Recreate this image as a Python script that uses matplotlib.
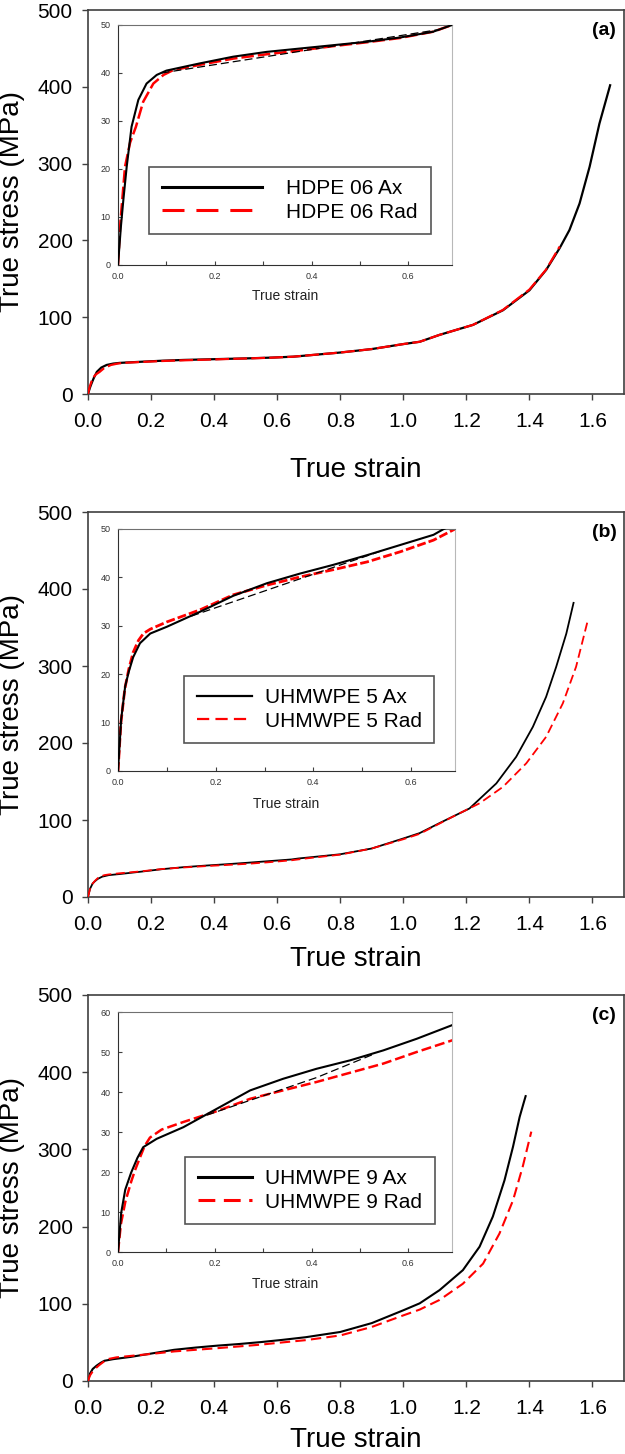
import matplotlib
matplotlib.use("Agg")
import matplotlib.pyplot as plt
from matplotlib.lines import Line2D
from matplotlib.ticker import MultipleLocator, FormatStrFormatter

plt.rcParams['font.family'] = ['Liberation Sans', 'DejaVu Sans']

# region Data
# (a) HDPE 06
a_ax_strain = [0, 0.006, 0.011, 0.018, 0.028, 0.042, 0.059, 0.080, 0.100, 0.169, 0.238, 0.307, 0.376,
               0.445, 0.514, 0.583, 0.651, 0.690, 0.800, 0.900, 1.000, 1.052, 1.115, 1.221, 1.316,
               1.400, 1.453, 1.496, 1.527, 1.559, 1.591, 1.622, 1.656]
a_ax_stress = [0, 8.0, 13.5, 20.5, 28.8, 34.4, 37.8, 39.6, 40.5, 42.0, 43.4, 44.4, 45.1,
               45.8, 46.5, 47.4, 48.6, 50.0, 54.0, 58.5, 65.0, 68.0, 77.0, 90.0, 109.0,
               135.0, 161.5, 190.0, 213.5, 248.0, 296.0, 352.0, 402.0]
a_rad_strain = [0, 0.005, 0.0145, 0.025, 0.037, 0.052, 0.073, 0.094, 0.114, 0.169, 0.238, 0.307, 0.376,
                0.445, 0.514, 0.583, 0.651, 0.690, 0.800, 0.900, 1.000, 1.052, 1.115, 1.221, 1.316,
                1.400, 1.453, 1.496]
a_rad_stress = [0, 9.0, 20.5, 25.5, 28.8, 34.0, 37.8, 39.6, 40.6, 41.7, 43.0, 43.9, 44.7,
                45.6, 46.4, 47.3, 48.6, 50.0, 54.0, 58.5, 65.0, 68.0, 77.0, 90.0, 109.5,
                136.0, 162.0, 192.0]
a_fit_strain = [0.09, 0.66]
a_fit_stress = [40.0, 49.0]

# (b) UHMWPE 5
b_ax_strain = [0, 0.0065, 0.0147, 0.022, 0.031, 0.045, 0.066, 0.100, 0.168, 0.236, 0.305, 0.373,
               0.441, 0.510, 0.578, 0.646, 0.667, 0.800, 0.900, 1.000, 1.052, 1.115, 1.210, 1.295,
               1.358, 1.411, 1.453, 1.485, 1.517, 1.540]
b_ax_stress = [0, 10.7, 17.5, 20.5, 23.5, 26.4, 28.4, 29.8, 32.9, 36.2, 38.8, 40.8,
               42.6, 44.6, 46.7, 48.8, 50.0, 55.5, 63.0, 76.0, 83.0, 96.0, 115.0, 147.5,
               182.0, 221.0, 260.0, 299.0, 342.0, 382.0]
b_rad_strain = [0, 0.006, 0.014, 0.022, 0.031, 0.042, 0.052, 0.066, 0.100, 0.168, 0.236, 0.305,
                0.373, 0.441, 0.510, 0.578, 0.646, 0.690, 0.800, 0.900, 1.000, 1.052, 1.157, 1.242,
                1.316, 1.390, 1.453, 1.506, 1.548, 1.585]
b_rad_stress = [0, 10.0, 17.0, 21.0, 24.5, 27.0, 28.4, 29.3, 30.8, 33.3, 36.4, 38.4,
                40.1, 41.6, 43.2, 45.3, 47.7, 50.0, 55.0, 63.0, 75.0, 82.0, 104.3, 121.7,
                143.0, 173.6, 208.0, 251.5, 299.0, 359.0]
b_fit_strain = [0.15, 0.54]
b_fit_stress = [32.0, 45.5]

# (c) UHMWPE 9
c_ax_strain = [0, 0.0066, 0.015, 0.027, 0.040, 0.052, 0.080, 0.135, 0.204, 0.273, 0.341, 0.410,
               0.479, 0.548, 0.617, 0.690, 0.800, 0.900, 1.000, 1.052, 1.115, 1.189, 1.242, 1.284,
               1.321, 1.348, 1.369, 1.383, 1.388]
c_ax_stress = [0, 9.8, 15.6, 19.8, 23.5, 26.2, 28.3, 31.2, 35.8, 40.4, 43.3, 45.8,
               47.9, 50.4, 53.3, 56.7, 63.5, 75.0, 91.6, 100.6, 117.7, 143.6, 174.0, 213.0,
               260.0, 303.5, 342.0, 362.0, 369.0]
c_rad_strain = [0, 0.006, 0.015, 0.027, 0.035, 0.045, 0.055, 0.066, 0.090, 0.135, 0.204, 0.273,
                0.341, 0.410, 0.479, 0.548, 0.617, 0.690, 0.800, 0.900, 1.000, 1.052, 1.115, 1.189,
                1.253, 1.305, 1.348, 1.379, 1.406]
c_rad_stress = [0, 7.0, 12.5, 17.5, 20.4, 23.5, 26.5, 28.6, 30.6, 32.5, 35.2, 38.3,
                40.4, 42.5, 44.8, 47.1, 50.0, 52.9, 59.0, 70.0, 85.0, 92.5, 105.0, 126.0,
                152.0, 191.0, 234.0, 278.0, 323.0]
c_fit_strain = [0.183, 0.41, 0.527]
c_fit_stress = [34.2, 43.6, 49.4]

x_ticks = [0.0, 0.2, 0.4, 0.6, 0.8, 1.0, 1.2, 1.4, 1.6]
y_ticks = [0, 100, 200, 300, 400, 500]
# endregion

W, H = 625, 1454


def px_box(left, top, right, bottom):
    return [left / W, 1 - bottom / H, (right - left) / W, (bottom - top) / H]


panels = [
    dict(tag='(a)', ax=(a_ax_strain, a_ax_stress), rad=(a_rad_strain, a_rad_stress), fit=(a_fit_strain, a_fit_stress),
         names=['HDPE 06 Ax', 'HDPE 06 Rad'], main=(88, 10, 624, 394), inset=(118, 25, 452, 265), iy=50,
         leg=(149, 167), hl=4.8, htp=1.2, lw_main=1.6, lw_leg=2.2, dash_main=(6.2, 1.9), dash_leg=(7.2, 3.9),
         dash_in=(5, 1.6), lw_in=1.8, xlab_y=-0.215, ilab_y=-0.146),
    dict(tag='(b)', ax=(b_ax_strain, b_ax_stress), rad=(b_rad_strain, b_rad_stress), fit=(b_fit_strain, b_fit_stress),
         names=['UHMWPE 5 Ax', 'UHMWPE 5 Rad'], main=(88, 512, 624, 897), inset=(118, 529, 455, 771), iy=50,
         leg=(184, 676), hl=2.65, htp=0.62, lw_main=1.3, lw_leg=1.6, dash_main=(5, 2.5), dash_leg=(5.5, 2.8),
         dash_in=(3.2, 1.1), lw_in=2.0, xlab_y=-0.1805, ilab_y=-0.154),
    dict(tag='(c)', ax=(c_ax_strain, c_ax_stress), rad=(c_rad_strain, c_rad_stress), fit=(c_fit_strain, c_fit_stress),
         names=['UHMWPE 9 Ax', 'UHMWPE 9 Rad'], main=(88, 995, 624, 1381), inset=(118, 1012, 452, 1252), iy=60,
         leg=(185, 1157), hl=2.6, htp=0.66, lw_main=1.5, lw_leg=2.2, dash_main=(5, 2.5), dash_leg=(5.5, 2.8),
         dash_in=(4, 1.6), lw_in=1.8, xlab_y=-0.172, ilab_y=-0.151),
]

fig = plt.figure(figsize=(W / 100, H / 100), dpi=100)

for p in panels:
    ax = fig.add_axes(px_box(*p['main']))
    ax.plot(*p['ax'], color='black', lw=p['lw_main'], zorder=2)
    ax.plot(*p['rad'], color='red', lw=p['lw_main'], dashes=p['dash_main'], zorder=3)
    ax.set_xlim(0, 1.7)
    ax.set_ylim(0, 500)
    ax.set_xticks(x_ticks)
    ax.set_yticks(y_ticks)
    ax.xaxis.set_major_formatter(FormatStrFormatter('%.1f'))
    ax.tick_params(axis='both', direction='out', length=4, width=1, color='#404040', labelsize=15)
    ax.tick_params(axis='x', pad=9)
    ax.tick_params(axis='y', pad=7)
    for s in ax.spines.values():
        s.set_color('#404040')
        s.set_linewidth(1.2)
    ax.text(0.5, p['xlab_y'], 'True strain', transform=ax.transAxes, ha='center', va='baseline', fontsize=20)
    ax.text(-0.142, 0.5, 'True stress (MPa)', transform=ax.transAxes, ha='center', va='center',
            rotation=90, fontsize=20)
    ax.text(0.963, 0.947, p['tag'], transform=ax.transAxes, ha='center', va='center',
            fontsize=14, fontweight='bold')

    # inset with the low strain part
    ins = fig.add_axes(px_box(*p['inset']))
    ins.plot(*p['ax'], color='black', lw=1.5, zorder=3)
    ins.plot(*p['rad'], color='red', lw=p['lw_in'], dashes=p['dash_in'], zorder=2)
    ins.plot(*p['fit'], color='black', lw=0.9, dashes=(6.4, 3.2), zorder=4)
    ins.set_xlim(0, 0.69)
    ins.set_ylim(0, p['iy'])
    ins.xaxis.set_major_locator(MultipleLocator(0.2))
    ins.xaxis.set_minor_locator(MultipleLocator(0.1))
    ins.yaxis.set_major_locator(MultipleLocator(10))
    ins.xaxis.set_major_formatter(FormatStrFormatter('%.1f'))
    ins.tick_params(which='both', direction='in', length=3, width=0.8, color='#404040',
                    labelsize=6.5, labelcolor='#333333')
    ins.tick_params(axis='x', pad=5)
    ins.tick_params(axis='y', pad=5.5)
    ins.spines['left'].set_color('#303030')
    ins.spines['bottom'].set_color('#303030')
    ins.spines['top'].set_color('#707070')
    ins.spines['right'].set_color('#b8b8b8')
    ins.text(0.5, p['ilab_y'], 'True strain', transform=ins.transAxes, ha='center', va='baseline',
             fontsize=10, color='#222222')

    handles = [Line2D([], [], color='black', lw=p['lw_leg']),
               Line2D([], [], color='red', lw=p['lw_leg'], dashes=p['dash_leg'])]
    leg = fig.legend(handles, p['names'], loc='upper left',
                     bbox_to_anchor=(p['leg'][0] / W, 1 - p['leg'][1] / H),
                     borderaxespad=0, fontsize=15, handlelength=p['hl'], handletextpad=p['htp'],
                     borderpad=0.6, labelspacing=0.2, fancybox=False, framealpha=1,
                     edgecolor='#555555')
    leg.get_frame().set_linewidth(1.2)

fig.savefig('out.png', dpi=100)
